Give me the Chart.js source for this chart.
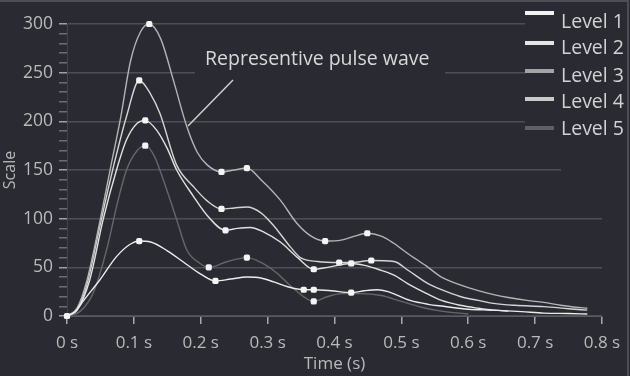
<!DOCTYPE html>
<html>
<head>
<meta charset="utf-8">
<title>Representive pulse wave</title>
<script src="https://cdn.jsdelivr.net/npm/chart.js@4.4.1/dist/chart.umd.min.js"></script>
<style>
  html, body { margin: 0; padding: 0; background: #2a2b32; }
  #wrap { width: 630px; height: 376px; }
</style>
</head>
<body>
<div id="wrap"><canvas id="graficoPulso" width="630" height="376"></canvas></div>
<script>
// valores (tiempo en s, escala)
const etiquetas = ['Level 1', 'Level 2', 'Level 3', 'Level 4', 'Level 5'];
const coloresLeyenda = ['#f2f2f2', '#e4e4e4', '#a4a4a4', '#cacaca', '#5f6063'];
const coloresLinea = ['#ececec', '#e2e2e2', '#b4b4b4', '#d4d4d4', '#66676b'];

const level1T = [0, 0.012, 0.025, 0.049, 0.074, 0.095, 0.108, 0.125, 0.15, 0.175, 0.2, 0.222, 0.245, 0.269, 0.29, 0.309, 0.33, 0.354, 0.369, 0.395, 0.425, 0.445, 0.464, 0.48, 0.513, 0.54, 0.563, 0.6, 0.638, 0.68, 0.713, 0.75, 0.778];
const level1V = [0, 4, 16, 37, 61, 74, 77, 76, 67, 55, 43, 36, 38, 40, 39, 35, 30, 27, 27, 26, 24, 26, 27, 25, 16, 12, 10, 7, 6, 4.5, 3, 2.5, 2];
const level1Marcas = [0, 0.108, 0.222, 0.354, 0.369, 0.425];

const level2T = [0, 0.015, 0.034, 0.054, 0.074, 0.089, 0.105, 0.117, 0.135, 0.15, 0.164, 0.189, 0.21, 0.237, 0.255, 0.274, 0.295, 0.319, 0.345, 0.369, 0.39, 0.425, 0.445, 0.465, 0.489, 0.51, 0.538, 0.56, 0.588, 0.615, 0.638, 0.66];
const level2V = [0, 6, 37, 99, 150, 181, 198, 201, 190, 172, 150, 123, 103, 88, 90, 91, 86, 76, 60, 48, 50, 54, 52, 48, 42, 33, 23, 16, 11, 8, 6, 5];
const level2Marcas = [0.117, 0.237, 0.369, 0.425];

const level3T = [0, 0.015, 0.03, 0.05, 0.065, 0.08, 0.095, 0.11, 0.123, 0.14, 0.16, 0.179, 0.195, 0.21, 0.231, 0.25, 0.269, 0.29, 0.319, 0.344, 0.365, 0.386, 0.41, 0.43, 0.449, 0.47, 0.488, 0.51, 0.538, 0.56, 0.588, 0.615, 0.638, 0.66, 0.688, 0.713, 0.738, 0.76, 0.778];
const level3V = [0, 8, 37, 100, 152, 203, 262, 292, 300, 285, 240, 195, 168, 155, 148, 150, 152, 140, 119, 95, 82, 77, 78, 82, 85, 82, 75, 64, 51, 40, 32, 26, 22, 19, 16, 14, 11, 9, 8];
const level3Marcas = [0.123, 0.231, 0.269, 0.386, 0.449];

const level4T = [0, 0.015, 0.03, 0.05, 0.07, 0.089, 0.108, 0.125, 0.139, 0.164, 0.189, 0.21, 0.231, 0.25, 0.269, 0.29, 0.31, 0.334, 0.349, 0.375, 0.407, 0.425, 0.455, 0.489, 0.51, 0.538, 0.56, 0.588, 0.615, 0.638, 0.67, 0.713, 0.75, 0.778];
const level4V = [0, 7, 33, 95, 155, 205, 242, 228, 208, 155, 133, 118, 110, 111, 112, 106, 92, 71, 60, 56, 55, 55, 57, 56, 47, 34, 27, 20, 16, 13, 11, 9.6, 7.5, 6];
const level4Marcas = [0.108, 0.231, 0.407, 0.455];

const level5T = [0, 0.02, 0.04, 0.06, 0.075, 0.089, 0.105, 0.117, 0.13, 0.144, 0.164, 0.179, 0.199, 0.212, 0.24, 0.269, 0.29, 0.314, 0.339, 0.369, 0.39, 0.41, 0.44, 0.47, 0.5, 0.53, 0.56, 0.6];
const level5V = [0, 5, 25, 70, 115, 150, 170, 175, 165, 140, 99, 68, 54, 50, 56, 60, 55, 44, 28, 15, 20, 23, 23, 21, 15, 9, 5, 2];
const level5Marcas = [0.117, 0.212, 0.269, 0.369];

const series = [
    [level1T, level1V, level1Marcas],
    [level2T, level2V, level2Marcas],
    [level3T, level3V, level3Marcas],
    [level4T, level4V, level4Marcas],
    [level5T, level5V, level5Marcas]
];

const FUENTE = '"Open Sans", "Noto Sans", sans-serif';
const FONDO = '#2a2b32';

function crearSerie(i) {
    const [ts, vs, marcas] = series[i];
    return {
        label: etiquetas[i],
        data: ts.map((t, k) => ({ x: t, y: vs[k] })),
        borderColor: coloresLinea[i],
        borderWidth: 1.4,
        clip: false,
        cubicInterpolationMode: 'monotone',
        pointStyle: 'rectRounded',
        pointRadius: ctx => marcas.includes(ts[ctx.dataIndex]) ? 3.6 : 0,
        pointBackgroundColor: '#f4f4f4',
        pointBorderColor: '#f4f4f4',
        pointBorderWidth: 0
    };
}

// fondo, leyenda y anotacion
const decoracion = {
    id: 'decoracion',
    beforeDraw(chart) {
        const c = chart.ctx;
        c.save();
        c.fillStyle = FONDO;
        c.fillRect(0, 0, chart.width, chart.height);
        c.restore();
    },
    beforeDatasetsDraw(chart) {
        const c = chart.ctx;
        c.save();
        c.fillStyle = FONDO;
        // tapar lineas de la grilla bajo la leyenda y el texto
        c.fillRect(525, 0, 105, 150);
        c.fillRect(561, 150, 69, 30);
        c.fillRect(195, 64, 250, 18);
        c.restore();
    },
    afterDraw(chart) {
        const c = chart.ctx;
        c.save();
        // leyenda
        const lineasY = [13, 43, 71, 99, 128];
        const textosY = [22, 48, 76, 102, 129];
        c.font = '19.5px ' + FUENTE;
        c.textBaseline = 'middle';
        c.textAlign = 'left';
        etiquetas.forEach((et, i) => {
            c.fillStyle = coloresLeyenda[i];
            c.fillRect(525, lineasY[i] - 2, 29, 4);
            c.fillStyle = '#d2d2d2';
            c.fillText(et, 561, textosY[i]);
        });
        // anotacion
        c.font = '19.5px ' + FUENTE;
        c.textBaseline = 'alphabetic';
        c.fillStyle = '#d8d8d8';
        c.fillText('Representive pulse wave', 205, 65);
        c.strokeStyle = '#cfcfcf';
        c.lineWidth = 1.5;
        c.beginPath();
        c.moveTo(233, 80);
        c.lineTo(188, 126);
        c.stroke();
        // marco
        c.strokeStyle = '#4d4e55';
        c.lineWidth = 2;
        c.beginPath();
        c.moveTo(0, 1);
        c.lineTo(628, 1);
        c.lineTo(628, 376);
        c.stroke();
        c.restore();
    }
};

const ctx = document.getElementById('graficoPulso').getContext('2d');
const grafico = new Chart(ctx, {
    type: 'line',
    data: {
        datasets: etiquetas.map((e, i) => crearSerie(i))
    },
    options: {
        responsive: false,
        animation: false,
        devicePixelRatio: 1,
        layout: { padding: { top: 24, right: 28, left: 0, bottom: 0 } },
        plugins: {
            legend: { display: false },
            tooltip: { enabled: false }
        },
        scales: {
            x: {
                type: 'linear',
                min: 0,
                max: 0.8,
                afterFit: s => { s.height = 60; },
                grid: { drawOnChartArea: false, tickLength: 8, tickColor: '#a8a8a8', lineWidth: 1.5 },
                border: { color: '#5a5b62' },
                ticks: {
                    stepSize: 0.1,
                    padding: 9,
                    color: '#bababa',
                    font: { family: FUENTE, size: 17 },
                    callback: v => Number(v.toFixed(1)) + ' s'
                },
                title: {
                    display: true,
                    text: 'Time (s)',
                    color: '#bababa',
                    font: { family: FUENTE, size: 17 },
                    padding: { top: 0, bottom: 2 }
                }
            },
            y: {
                min: 0,
                max: 300,
                afterFit: s => { s.width = 67; },
                grid: {
                    tickLength: 8,
                    lineWidth: 1.5,
                    color: c => c.tick && c.tick.value % 50 === 0 ? '#4e4f56' : 'rgba(0,0,0,0)',
                    tickColor: c => c.tick && c.tick.value % 50 === 0 ? '#a0a0a0' : '#6c6d72'
                },
                border: { color: '#43444b' },
                ticks: {
                    stepSize: 10,
                    autoSkip: false,
                    padding: 6,
                    color: '#bababa',
                    font: { family: FUENTE, size: 17.5 },
                    callback: v => v % 50 === 0 ? v : ''
                },
                title: {
                    display: true,
                    text: 'Scale',
                    color: '#bababa',
                    font: { family: FUENTE, size: 16 },
                    padding: { top: 1, bottom: 0 }
                }
            }
        }
    },
    plugins: [decoracion]
});
</script>
</body>
</html>
